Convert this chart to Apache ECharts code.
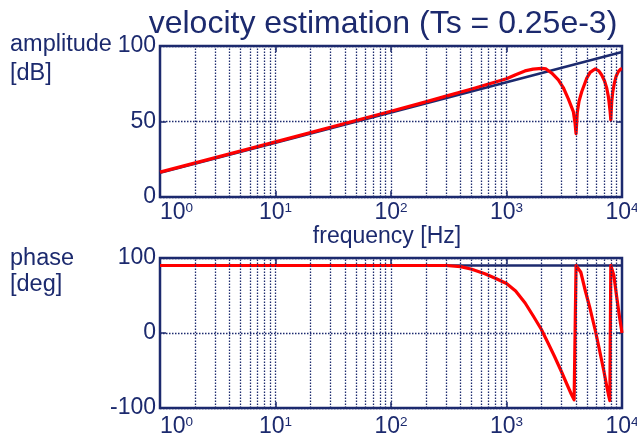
<!DOCTYPE html>
<html><head><meta charset="utf-8">
<script src="https://cdn.jsdelivr.net/npm/echarts@6/dist/echarts.min.js"></script>
<style>html,body{margin:0;padding:0;background:#fff}#c{width:637px;height:437px}</style>
</head><body><div id="c"></div>
<script>
// ---- data ----
const titleText = 'velocity estimation (Ts = 0.25e-3)';
const xMin = 1, xMax = 10000;
const ampTicks = [0, 50, 100];
const phaseTicks = [-100, 0, 100];

// amplitude [dB]
const idealAmpFreq = [1, 10, 100, 1000, 10000];
const idealAmp     = [16, 36, 56, 76, 96];
const estAmpFreq = [1, 10, 100, 200, 300, 500, 700, 1000, 1200, 1445, 1700, 2018, 2200, 2470, 2810, 3100, 3430, 3790, 3920, 4000, 4060, 4100, 4250, 4480, 4950, 5300, 5840, 6300, 6670, 7050, 7380, 7600, 7720, 7880, 8000, 8080, 8150, 8300, 8580, 8900, 9290, 9770, 10000];
const estAmp     = [16.5, 36.5, 56.8, 63, 66.8, 71.5, 74.8, 78.3, 81, 83.5, 84.7, 85.2, 84.8, 82, 77.5, 72.5, 65, 56.5, 49, 42, 50, 56, 63.5, 69.7, 78.6, 82.5, 84.8, 83.5, 80.8, 77, 72, 67, 63, 57, 51, 58, 63, 69, 75.3, 80, 83, 84.8, 85];

// phase [deg]
const idealPhaseFreq = [1, 10000];
const idealPhase     = [90, 90];
const estPhaseFreq = [1, 100, 300, 400, 500, 650, 800, 1000, 1200, 1450, 1700, 2000, 2300, 2600, 3000, 3350, 3650, 3850, 3995,
                      4000, 4150, 4400, 4800, 5300, 5900, 6450, 6950, 7400, 7700, 7850, 7995,
                      8000, 8200, 8500, 9000, 9500, 10000];
const estPhase     = [90, 90, 90, 88.5, 85, 79, 73, 66, 56, 40, 23, 5, -14, -31, -52, -69, -82, -89, -90,
                      90, 89, 81, 57, 32, 2, -26, -50, -72, -85, -90, -90,
                      90, 89, 77, 48, 22, 0];

// ---- styling ----
const navy = '#1c2a6e';
const red = '#ff0000';
const FF = '"Liberation Sans", Arial, sans-serif';

const gridVals = [];
for (let d = 1; d < xMax; d *= 10) for (let k = 2; k <= 10; k++) if (k * d < xMax) gridVals.push(k * d);

function pairs(xs, ys) { return xs.map((x, i) => [x, ys[i]]); }

const tickStyle = { show: true, inside: true, length: 6, lineStyle: { color: navy, width: 1.5 } };

function xAxisFor(gi, margin) {
  return {
    type: 'log', logBase: 10, min: xMin, max: xMax, gridIndex: gi,
    axisLine: { show: false, onZero: false },
    axisTick: tickStyle,
    splitLine: { show: false },
    axisLabel: {
      margin: margin, color: navy, showMinLabel: true, showMaxLabel: true,
      alignMinLabel: 'left',
      formatter: v => '{b|10}{s|' + Math.round(Math.log10(v)) + '}',
      rich: {
        b: { fontSize: 23, fontFamily: FF, color: navy },
        s: { fontSize: 13.5, fontFamily: FF, color: navy, verticalAlign: 'top' }
      }
    }
  };
}
function xTopFor(gi) {
  return { type: 'log', logBase: 10, min: xMin, max: xMax, gridIndex: gi, position: 'top',
    axisLine: { show: false, onZero: false }, axisLabel: { show: false }, splitLine: { show: false },
    axisTick: tickStyle };
}
function yAxisFor(gi, ticks) {
  return {
    type: 'value', gridIndex: gi, min: ticks[0], max: ticks[ticks.length - 1],
    interval: ticks[1] - ticks[0],
    axisLine: { show: false, onZero: false },
    axisTick: tickStyle,
    splitLine: { show: true, lineStyle: { color: navy, width: 1.3, type: [1.5, 1.5] } },
    axisLabel: { margin: 4, color: navy, fontSize: 23, fontFamily: FF }
  };
}
function yRightFor(gi, ticks) {
  return { type: 'value', gridIndex: gi, position: 'right', min: ticks[0], max: ticks[ticks.length - 1],
    interval: ticks[1] - ticks[0], axisLine: { show: false, onZero: false }, axisLabel: { show: false }, splitLine: { show: false },
    axisTick: tickStyle };
}
function gridSeries(ai) {
  return { type: 'line', xAxisIndex: ai, yAxisIndex: ai, data: [], z: 1, silent: true,
    markLine: { symbol: 'none', silent: true, animation: false, label: { show: false },
      lineStyle: { color: navy, width: 1.3, type: [1.5, 1.5] },
      emphasis: { disabled: true },
      data: gridVals.map(v => ({ xAxis: v })) } };
}
function lineSeries(ai, data, color, width, z) {
  return { type: 'line', xAxisIndex: ai, yAxisIndex: ai, data: data, showSymbol: false, symbol: 'none',
    z: z, silent: true, animation: false, lineStyle: { color: color, width: width, join: 'round' } };
}

const chart = echarts.init(document.getElementById('c'), null, { renderer: 'canvas' });
chart.setOption({
  animation: false,
  backgroundColor: '#fff',
  grid: [
    { left: 160, top: 46, width: 462, height: 151, show: true, borderColor: navy, borderWidth: 2.5, backgroundColor: 'transparent', containLabel: false, outerBoundsMode: 'none' },
    { left: 160, top: 258, width: 462, height: 150, show: true, borderColor: navy, borderWidth: 2.5, backgroundColor: 'transparent', containLabel: false, outerBoundsMode: 'none' }
  ],
  xAxis: [xAxisFor(0, 4), xAxisFor(1, 7), xTopFor(0), xTopFor(1)],
  yAxis: [yAxisFor(0, ampTicks), yAxisFor(1, phaseTicks), yRightFor(0, ampTicks), yRightFor(1, phaseTicks)],
  series: [
    gridSeries(0),
    gridSeries(1),
    lineSeries(0, pairs(idealAmpFreq, idealAmp), navy, 2.6, 3),
    lineSeries(0, pairs(estAmpFreq, estAmp), red, 3.2, 4),
    lineSeries(1, pairs(idealPhaseFreq, idealPhase), navy, 2.6, 3),
    lineSeries(1, pairs(estPhaseFreq, estPhase), red, 3.2, 4)
  ],
  graphic: [
    { type: 'text', x: 383, y: 24, style: { text: titleText, fill: navy, font: '32px ' + FF, textAlign: 'center', textVerticalAlign: 'middle' } },
    { type: 'text', x: 10, y: 45, style: { text: 'amplitude', fill: navy, font: '23.5px ' + FF, textAlign: 'left', textVerticalAlign: 'middle' } },
    { type: 'text', x: 10, y: 74, style: { text: '[dB]', fill: navy, font: '23.5px ' + FF, textAlign: 'left', textVerticalAlign: 'middle' } },
    { type: 'text', x: 387, y: 237, style: { text: 'frequency [Hz]', fill: navy, font: '23px ' + FF, textAlign: 'center', textVerticalAlign: 'middle' } },
    { type: 'text', x: 10, y: 259, style: { text: 'phase', fill: navy, font: '23.5px ' + FF, textAlign: 'left', textVerticalAlign: 'middle' } },
    { type: 'text', x: 10, y: 285, style: { text: '[deg]', fill: navy, font: '23.5px ' + FF, textAlign: 'left', textVerticalAlign: 'middle' } }
  ]
});
</script>
</body></html>
